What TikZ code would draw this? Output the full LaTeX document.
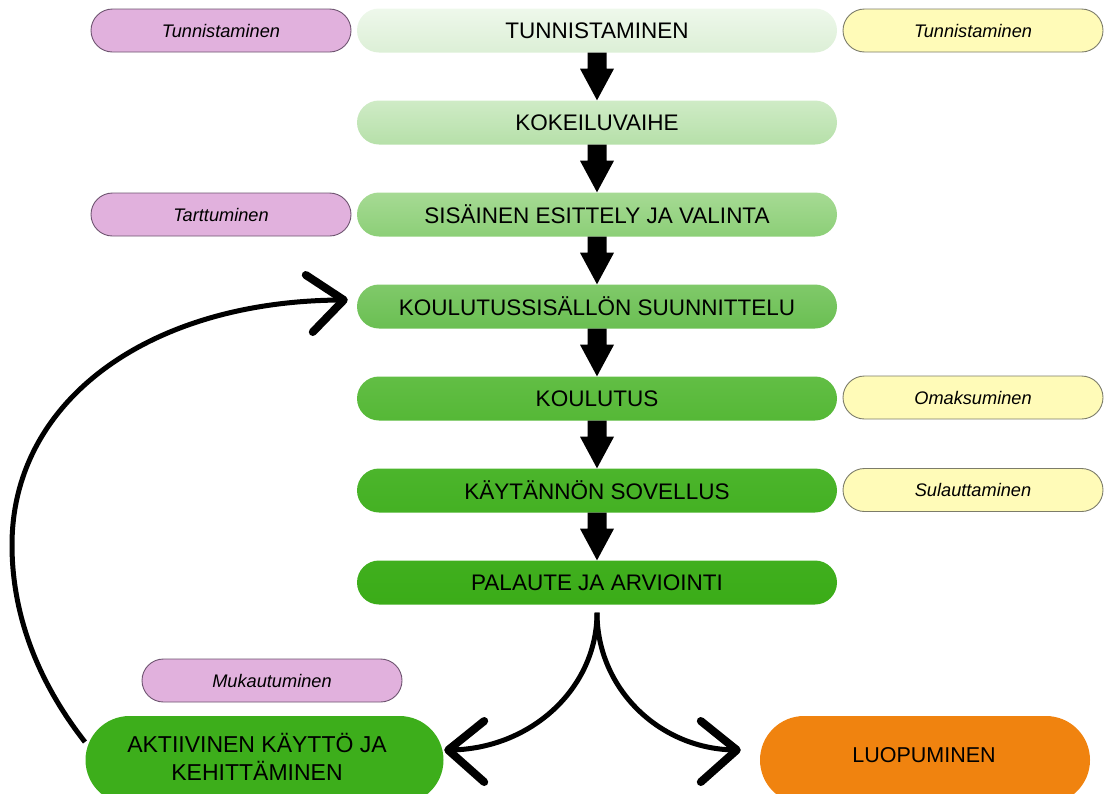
\documentclass[tikz,border=0pt]{standalone}
\usepackage{fontspec}
\setmainfont{Liberation Sans}
\usetikzlibrary{calc}
\definecolor{pfill}{HTML}{E1B1DD}
\definecolor{pline}{HTML}{6E5470}
\definecolor{yfill}{HTML}{FFFBB8}
\definecolor{yline}{HTML}{7C7C6A}
\definecolor{gA1}{HTML}{EEF8EB}\definecolor{gA2}{HTML}{DCEFD6}
\definecolor{gB1}{HTML}{CFEBC6}\definecolor{gB2}{HTML}{B6E0A9}
\definecolor{gC1}{HTML}{A6DA94}\definecolor{gC2}{HTML}{8CCF77}
\definecolor{gD1}{HTML}{80C96A}\definecolor{gD2}{HTML}{6ABF52}
\definecolor{gE1}{HTML}{62BE45}\definecolor{gE2}{HTML}{55B836}
\definecolor{gF1}{HTML}{4CB52C}\definecolor{gF2}{HTML}{44B123}
\definecolor{gG1}{HTML}{40AF1E}\definecolor{gG2}{HTML}{3BAC18}
\definecolor{aktgreen}{HTML}{3DAE1B}
\definecolor{luop}{HTML}{F0830F}
\begin{document}
\begin{tikzpicture}[x=1pt,y=-1pt,
  mainbox/.style 2 args={minimum width=480pt, minimum height=44pt, rounded corners=22pt,
    inner sep=0pt, top color=#1, bottom color=#2, draw=none, font=\fontsize{22.5}{27}\selectfont},
  sidebox/.style={minimum width=260pt, minimum height=43pt, rounded corners=21.5pt,
    inner sep=0pt, line width=0.9pt, font=\fontsize{18.2}{22}\selectfont\itshape},
  purplebox/.style={sidebox, fill=pfill, draw=pline},
  yellowbox/.style={sidebox, fill=yfill, draw=yline},
  bigbox/.style={minimum height=88pt, rounded corners=44pt, inner sep=0pt, draw=none,
    align=center, font=\fontsize{23}{28}\selectfont},
  curveline/.style={line width=5pt},
  chevron/.style={line width=8pt, line cap=round, line join=round}
]
\useasboundingbox (0,0) rectangle (1110,793);

% main chain
\node[mainbox={gA1}{gA2}] (b1) at (597,30.5) {TUNNISTAMINEN};
\node[mainbox={gB1}{gB2}] (b2) at (597,122.5) {KOKEILUVAIHE};
\node[mainbox={gC1}{gC2}] (b3) at (597,214.5) {SISÄINEN ESITTELY JA VALINTA};
\node[mainbox={gD1}{gD2}] (b4) at (597,306.5) {KOULUTUSSISÄLLÖN SUUNNITTELU};
\node[mainbox={gE1}{gE2}] (b5) at (597,398.5) {KOULUTUS};
\node[mainbox={gF1}{gF2}] (b6) at (597,490.5) {KÄYTÄNNÖN SOVELLUS};
\node[mainbox={gG1}{gG2}] (b7) at (597,582.5) {PALAUTE JA ARVIOINTI};

% side labels
\node[purplebox] (p1) at (221,30.5) {Tunnistaminen};
\node[purplebox] (p2) at (221,214.5) {Tarttuminen};
\node[purplebox] (p3) at (272,680.5) {Mukautuminen};
\node[yellowbox] (y1) at (973,30.5) {Tunnistaminen};
\node[yellowbox] (y2) at (973,397.5) {Omaksuminen};
\node[yellowbox] (y3) at (973,490) {Sulauttaminen};

% bottom boxes
\node[bigbox, fill=aktgreen, minimum width=358pt] (akt) at (264.5,760) {};
\node[font=\fontsize{23}{28}\selectfont, align=center, inner sep=0pt] (aktt) at (257,757) {AKTIIVINEN KÄYTTÖ JA\\KEHITTÄMINEN};
\node[bigbox, fill=luop, minimum width=330pt] (luo) at (925,760) {};
\node[font=\fontsize{21.5}{26}\selectfont, inner sep=0pt] (luot) at (924,755) {LUOPUMINEN};

% block arrows
\foreach \a/\b in {b1/b2,b2/b3,b3/b4,b4/b5,b5/b6,b6/b7}{
  \fill[black] ($(\a.south)+(-9.5,0)$) -- ($(\a.south)+(-9.5,16)$) -- ($(\a.south)+(-17,16)$)
    -- (\b.north) -- ($(\a.south)+(17,16)$) -- ($(\a.south)+(9.5,16)$) -- ($(\a.south)+(9.5,0)$) -- cycle;
}

% split arrows
\coordinate (split) at ($(b7.south)+(0,8)$);
\coordinate (tipL) at ($(akt.east)+(4.5,-10)$);
\coordinate (tipR) at ($(luo.west)+(-23,-10)$);
\draw[curveline] (split) .. controls ($(split)+(0,76)$) and ($(tipL)+(82,0)$) .. (tipL);
\draw[curveline] (split) .. controls ($(split)+(0,76)$) and ($(tipR)+(-77,0)$) .. (tipR);
\draw[chevron] ($(tipL)+(36,-29)$) -- (tipL) -- ($(tipL)+(36,32)$);
\draw[chevron] ($(tipR)+(-36,-29)$) -- (tipR) -- ($(tipR)+(-36,32)$);

% feedback loop
\coordinate (loopS) at (85,742);
\coordinate (loopM) at (12,545);
\coordinate (tipB) at ($(b4.west)+(-13,-6.5)$);
\draw[curveline] (loopS) .. controls (38,682) and (12,615) .. (loopM)
  .. controls (12,400) and (150,300) .. (tipB);
\draw[chevron] ($(tipB)+(-38,-25)$) -- (tipB) -- ($(tipB)+(-31,32)$);
\end{tikzpicture}
\end{document}
